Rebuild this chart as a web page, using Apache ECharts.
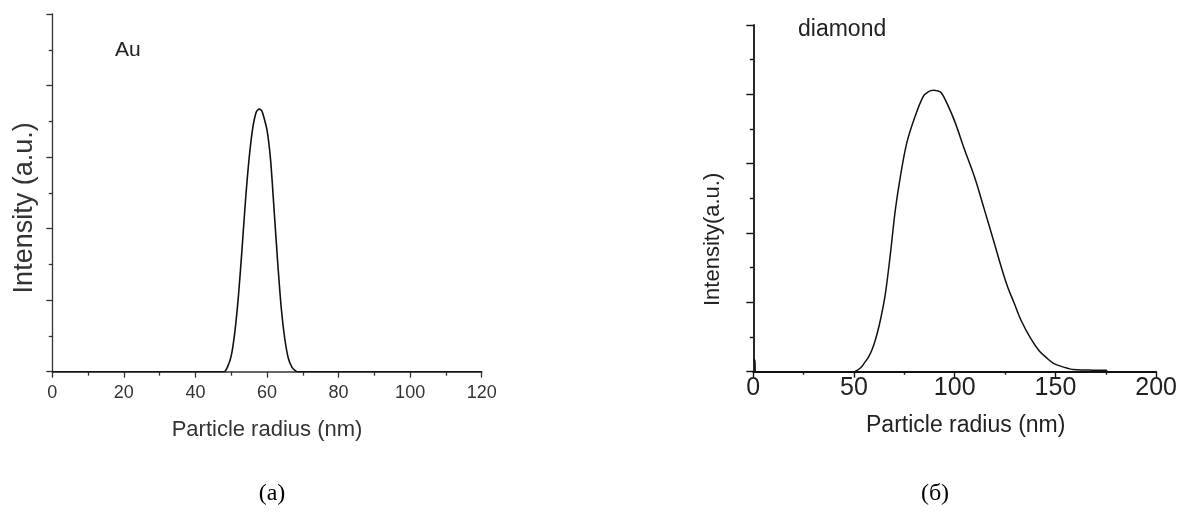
<!DOCTYPE html>
<html>
<head>
<meta charset="utf-8">
<script src="https://cdn.jsdelivr.net/npm/echarts@6/dist/echarts.min.js"></script>
<style>
html,body{margin:0;padding:0;background:#fff;}
#chart{width:1180px;height:517px;}
</style>
</head>
<body>
<div id="chart"></div>
<script>
// ---- data ----
const auRadius    = [0, 48, 49, 50, 51, 52, 53, 54, 55, 56, 57, 57.8, 58.5, 59, 60, 61, 62, 63, 64, 65, 66, 67, 68, 68.5, 120];
const auIntensity = [0, 0, 0.07, 0.22, 0.55, 1.05, 1.70, 2.40, 2.98, 3.40, 3.63, 3.67, 3.65, 3.58, 3.38, 2.96, 2.25, 1.52, 0.88, 0.45, 0.18, 0.06, 0.01, 0, 0];

const diaRadius    = [0, 0.8, 1, 50, 51, 53, 54, 55, 57.4, 59.5, 61.5, 63.5, 65.6, 68.1, 70.5, 73, 76.2, 80.3, 84.4, 87, 89.4, 91.5, 93.4, 96, 100, 104.9, 109.8, 114.8, 119.7, 123, 126.2, 129.5, 132.8, 137.7, 142, 146, 149, 152.5, 156, 159, 165, 170, 175.4, 175.5];
const diaIntensity = [0.17, 0.17, 0, 0, 0.01, 0.05, 0.08, 0.12, 0.22, 0.36, 0.55, 0.80, 1.13, 1.71, 2.33, 2.81, 3.30, 3.68, 3.97, 4.04, 4.06, 4.05, 4.02, 3.88, 3.61, 3.20, 2.81, 2.33, 1.85, 1.52, 1.23, 0.99, 0.75, 0.48, 0.30, 0.19, 0.12, 0.08, 0.05, 0.03, 0.025, 0.02, 0.02, 0];

const auTicks  = {min: 0, max: 120, interval: 20};
const diaTicks = {min: 0, max: 200, interval: 50};

const panelLabels = ['Au', 'diamond'];
const captions = ['(a)', '(б)'];
const xTitle = 'Particle radius (nm)';
const yTitles = ['Intensity (a.u.)', 'Intensity(a.u.)'];

// ---- chart ----
const sans = '"Liberation Sans", Arial, sans-serif';
const serif = '"Liberation Serif", "Times New Roman", serif';

function pairs(xs, ys){ return xs.map((x,i)=>[x, ys[i]]); }

const chart = echarts.init(document.getElementById('chart'));
chart.setOption({
  animation: false,
  backgroundColor: '#fff',
  title: [
    {text: panelLabels[0], left: 115, top: 40, padding: 0, textStyle: {fontFamily: sans, fontSize: 21, fontWeight: 'normal', color: '#222'}},
    {text: panelLabels[1], left: 798, top: 18, padding: 0, textStyle: {fontFamily: sans, fontSize: 23, fontWeight: 'normal', color: '#222'}},
    {text: captions[0], left: 272, top: 482, textAlign: 'center', padding: 0, textStyle: {fontFamily: serif, fontSize: 24, fontWeight: 'normal', color: '#000'}},
    {text: captions[1], left: 935, top: 482, textAlign: 'center', padding: 0, textStyle: {fontFamily: serif, fontSize: 24, fontWeight: 'normal', color: '#000'}}
  ],
  grid: [
    {left: 52.3, right: 698.3, top: 14, bottom: 145.3, containLabel: false},
    {left: 753.3, right: 20, top: 25, bottom: 145.3, containLabel: false}
  ],
  xAxis: [
    {
      gridIndex: 0, type: 'value', min: auTicks.min, max: auTicks.max, interval: auTicks.interval,
      name: xTitle, nameLocation: 'middle', nameGap: 47,
      nameTextStyle: {fontFamily: sans, fontSize: 22, color: '#333'},
      axisLine: {show: true, onZero: false, lineStyle: {color: '#333', width: 1.6}},
      axisTick: {show: true, inside: false, length: 6, lineStyle: {color: '#333', width: 1.3}},
      minorTick: {show: true, splitNumber: 2, length: 4, lineStyle: {color: '#333', width: 1.3}},
      axisLabel: {show: true, margin: 12, fontFamily: sans, fontSize: 18, color: '#333'},
      splitLine: {show: false}
    },
    {
      gridIndex: 1, type: 'value', min: diaTicks.min, max: diaTicks.max, interval: diaTicks.interval,
      name: xTitle, nameLocation: 'middle', nameGap: 42,
      nameTextStyle: {fontFamily: sans, fontSize: 23, color: '#222', padding: [0, 0, 0, 22]},
      axisLine: {show: true, onZero: false, lineStyle: {color: '#111', width: 1.8}},
      axisTick: {show: true, inside: false, length: 6, lineStyle: {color: '#111', width: 1.4}},
      minorTick: {show: true, splitNumber: 2, length: 3, lineStyle: {color: '#111', width: 1.4}},
      axisLabel: {show: true, margin: 4, fontFamily: sans, fontSize: 25, color: '#222'},
      splitLine: {show: false}
    }
  ],
  yAxis: [
    {
      gridIndex: 0, type: 'value', min: 0, max: 5, interval: 1,
      name: yTitles[0], nameLocation: 'middle', nameGap: 14,
      nameTextStyle: {fontFamily: sans, fontSize: 27, color: '#333', padding: [0, 30, 0, 0]},
      axisLine: {show: true, onZero: false, lineStyle: {color: '#333', width: 1.3}},
      axisTick: {show: true, inside: false, length: 6, lineStyle: {color: '#333', width: 1.3}},
      minorTick: {show: true, splitNumber: 2, length: 3.5, lineStyle: {color: '#333', width: 1.3}},
      axisLabel: {show: false},
      splitLine: {show: false}
    },
    {
      gridIndex: 1, type: 'value', min: 0, max: 5, interval: 1,
      name: yTitles[1], nameLocation: 'middle', nameGap: 29,
      nameTextStyle: {fontFamily: sans, fontSize: 22, color: '#222', padding: [0, 82, 0, 0]},
      axisLine: {show: true, onZero: false, lineStyle: {color: '#111', width: 1.8}},
      axisTick: {show: true, inside: false, length: 7, lineStyle: {color: '#111', width: 1.4}},
      minorTick: {show: true, splitNumber: 2, length: 3.5, lineStyle: {color: '#111', width: 1.4}},
      axisLabel: {show: false},
      splitLine: {show: false}
    }
  ],
  series: [
    {
      type: 'line', xAxisIndex: 0, yAxisIndex: 0, data: pairs(auRadius, auIntensity),
      showSymbol: false, smooth: 0.25, lineStyle: {color: '#111', width: 1.6}
    },
    {
      type: 'line', xAxisIndex: 1, yAxisIndex: 1, data: pairs(diaRadius, diaIntensity),
      showSymbol: false, smooth: 0.35, lineStyle: {color: '#111', width: 1.5}
    }
  ]
});
</script>
</body>
</html>
